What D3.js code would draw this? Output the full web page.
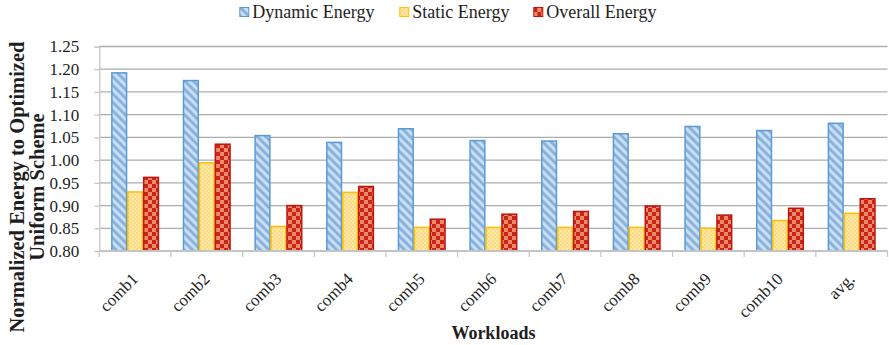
<!DOCTYPE html>
<html>
<head>
<meta charset="utf-8">
<script src="https://cdn.jsdelivr.net/npm/d3@7"></script>
<style>
  html, body { margin: 0; padding: 0; background: #fff; }
  svg { display: block; font-family: "Liberation Serif", "Times New Roman", serif; }
</style>
</head>
<body>
<svg id="chart" width="889" height="345"></svg>
<script>
// Workload categories
const categories = ["comb1", "comb2", "comb3", "comb4", "comb5", "comb6", "comb7", "comb8", "comb9", "comb10", "avg."];

// Normalized energy per workload
const dynamicEnergy = [1.192, 1.175, 1.054, 1.039, 1.069, 1.043, 1.042, 1.058, 1.074, 1.065, 1.081];
const staticEnergy  = [0.930, 0.994, 0.854, 0.929, 0.852, 0.852, 0.852, 0.852, 0.850, 0.867, 0.883];
const overallEnergy = [0.962, 1.035, 0.900, 0.942, 0.870, 0.881, 0.887, 0.899, 0.879, 0.894, 0.915];

const seriesNames = ["Dynamic Energy", "Static Energy", "Overall Energy"];
const yTicks = [0.80, 0.85, 0.90, 0.95, 1.00, 1.05, 1.10, 1.15, 1.20, 1.25];

const series = [
  { name: seriesNames[0], values: dynamicEnergy, fill: "url(#pDyn)", stroke: "#5b9bd5" },
  { name: seriesNames[1], values: staticEnergy,  fill: "url(#pSta)", stroke: "#ffc000" },
  { name: seriesNames[2], values: overallEnergy, fill: "url(#pOve)", stroke: "#c0150f" }
];

const svg = d3.select("#chart");
const plot = { left: 99.3, right: 887.5, top: 46.5, bottom: 251 };
const textColor = "#1e1e1e";
const serif = "'Liberation Serif', 'Times New Roman', serif";

// ---- fill patterns ----
const defs = svg.append("defs");

const pDyn = defs.append("pattern").attr("id", "pDyn")
  .attr("patternUnits", "userSpaceOnUse").attr("width", 6).attr("height", 6)
  .attr("patternTransform", "rotate(-45)");
pDyn.append("rect").attr("width", 6).attr("height", 6).attr("fill", "#c9def2");
pDyn.append("rect").attr("width", 2.8).attr("height", 6).attr("fill", "#86b0dd");

const pSta = defs.append("pattern").attr("id", "pSta")
  .attr("patternUnits", "userSpaceOnUse").attr("width", 4).attr("height", 4);
pSta.append("rect").attr("width", 4).attr("height", 4).attr("fill", "#fde7a6");
pSta.append("rect").attr("width", 2).attr("height", 2).attr("fill", "#fbdb84");
pSta.append("rect").attr("x", 2).attr("y", 2).attr("width", 2).attr("height", 2).attr("fill", "#fbdb84");

const pOve = defs.append("pattern").attr("id", "pOve")
  .attr("patternUnits", "userSpaceOnUse").attr("width", 8).attr("height", 8);
pOve.append("rect").attr("width", 8).attr("height", 8).attr("fill", "#ef8a68");
pOve.append("rect").attr("width", 4).attr("height", 4).attr("fill", "#c8261b");
pOve.append("rect").attr("x", 4).attr("y", 4).attr("width", 4).attr("height", 4).attr("fill", "#c8261b");

// ---- scales ----
const x = d3.scaleBand().domain(categories).range([plot.left, plot.right]).paddingInner(0).paddingOuter(0);
const xs = d3.scaleBand().domain(seriesNames).range([0, x.bandwidth()]).paddingInner(0).paddingOuter(0.75);
const y = d3.scaleLinear().domain([0.80, 1.25]).range([plot.bottom, plot.top]);

// ---- gridlines ----
svg.append("g").selectAll("line").data(yTicks.slice(1)).join("line")
  .attr("x1", plot.left).attr("x2", plot.right)
  .attr("y1", d => y(d)).attr("y2", d => y(d))
  .attr("stroke", "#adadad").attr("stroke-width", 1.3);

// ---- y axis ----
const yAxis = svg.append("g").attr("transform", `translate(${plot.left},0)`)
  .call(d3.axisLeft(y).tickValues(yTicks).tickFormat(d3.format(".2f")).tickSize(5).tickPadding(15));
yAxis.attr("font-family", null);
yAxis.select(".domain").attr("stroke", "#c4c4c4").attr("stroke-width", 1.2);
yAxis.selectAll(".tick line").attr("stroke", "#c4c4c4").attr("stroke-width", 1.2);
yAxis.selectAll(".tick text").attr("fill", textColor).style("font-size", "17px")
  .style("font-family", serif);

// ---- bars ----
const groups = svg.append("g").selectAll("g").data(series).join("g");
groups.selectAll("rect")
  .data(s => s.values.map((v, i) => ({ cat: categories[i], v, s })))
  .join("rect")
  .attr("x", d => x(d.cat) + xs(d.s.name) + 0.6)
  .attr("width", xs.bandwidth() - 1.2)
  .attr("y", d => y(d.v))
  .attr("height", d => plot.bottom - y(d.v))
  .attr("fill", d => d.s.fill)
  .attr("stroke", d => d.s.stroke)
  .attr("stroke-width", 1.5);

// ---- x axis ----
const xAxis = svg.append("g").attr("transform", `translate(0,${plot.bottom})`);
xAxis.append("line").attr("x1", plot.left).attr("x2", plot.right)
  .attr("stroke", "#c4c4c4").attr("stroke-width", 2);
const boundaries = categories.map(c => x(c)).concat([plot.right]);
xAxis.selectAll("line.tk").data(boundaries).join("line").attr("class", "tk")
  .attr("x1", d => d).attr("x2", d => d).attr("y1", 0).attr("y2", 6)
  .attr("stroke", "#c4c4c4").attr("stroke-width", 1.2);
xAxis.selectAll("text").data(categories).join("text")
  .attr("transform", d => `translate(${x(d) + x.bandwidth() / 2 + 4},${29}) rotate(-45)`)
  .attr("text-anchor", "end")
  .attr("fill", textColor)
  .style("font-size", "17px")
  .style("font-family", serif)
  .text(d => d);

// ---- axis titles ----
svg.append("text")
  .attr("x", (plot.left + plot.right) / 2).attr("y", 339)
  .attr("text-anchor", "middle").attr("fill", textColor)
  .style("font-size", "18px").style("font-weight", "bold").style("font-family", serif)
  .text("Workloads");

const yTitle = svg.append("text")
  .attr("transform", "translate(0,187) rotate(-90)")
  .attr("text-anchor", "middle").attr("fill", textColor)
  .style("font-size", "20.5px").style("font-weight", "bold").style("font-family", serif);
yTitle.append("tspan").attr("x", 0).attr("y", 23.5).text("Normalized Energy to Optimized");
yTitle.append("tspan").attr("x", 0).attr("y", 43.5).text("Uniform Scheme");

// ---- legend ----
const legendX = [239.3, 399.3, 533.3];
const legend = svg.append("g").selectAll("g").data(series).join("g")
  .attr("transform", (d, i) => `translate(${legendX[i]},0)`);
legend.append("rect").attr("x", 0.5).attr("y", 7.5).attr("width", 9).attr("height", 9)
  .attr("fill", d => d.fill).attr("stroke", d => d.stroke).attr("stroke-width", 1);
legend.append("text").attr("x", 13).attr("y", 18)
  .attr("fill", textColor).style("font-size", "18px").style("font-family", serif)
  .text(d => d.name);
</script>
</body>
</html>
